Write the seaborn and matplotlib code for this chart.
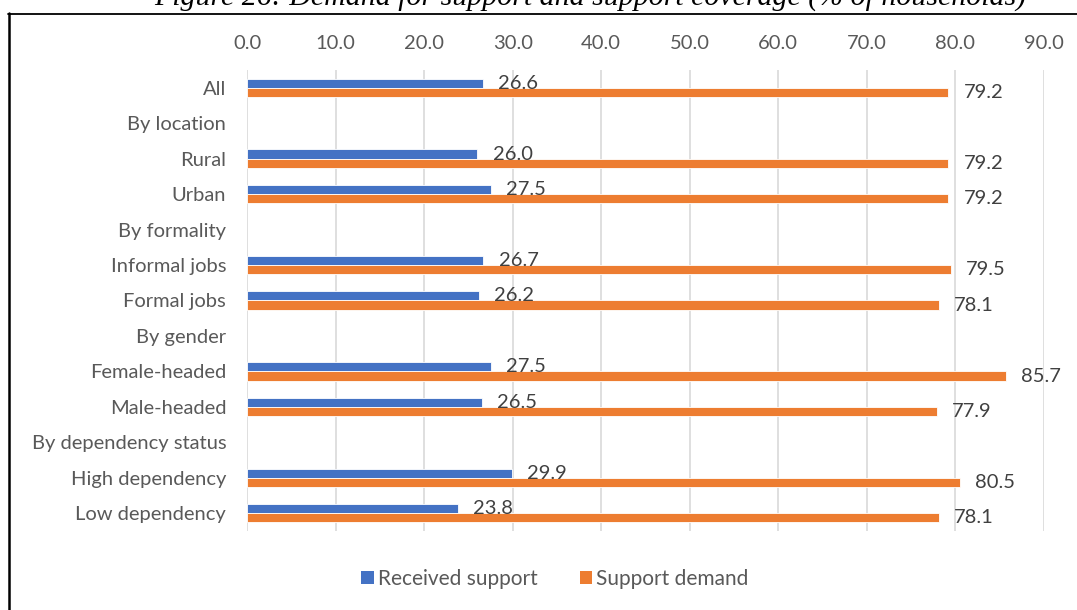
import numpy as np
import pandas as pd
import seaborn as sns
import matplotlib.pyplot as plt
from matplotlib.lines import Line2D
from matplotlib.patches import Patch

categories = ["All", "By location", "Rural", "Urban", "By formality",
              "Informal jobs", "Formal jobs", "By gender", "Female-headed",
              "Male-headed", "By dependency status", "High dependency",
              "Low dependency"]
received_support = [26.6, np.nan, 26.0, 27.5, np.nan, 26.7, 26.2, np.nan,
                    27.5, 26.5, np.nan, 29.9, 23.8]
support_demand = [79.2, np.nan, 79.2, 79.2, np.nan, 79.5, 78.1, np.nan,
                  85.7, 77.9, np.nan, 80.5, 78.1]
series_names = ["Received support", "Support demand"]
x_ticks = [0, 10, 20, 30, 40, 50, 60, 70, 80, 90]
title = "Figure 26: Demand for support and support coverage (% of households)"

colors = ["#4472C4", "#ED7D31"]

sns.set_theme(style="white")
plt.rcParams["font.family"] = ["Lato", "DejaVu Sans"]

df = pd.DataFrame({
    "category": categories * 2,
    "value": received_support + support_demand,
    "series": [series_names[0]] * len(categories) + [series_names[1]] * len(categories),
})

fig = plt.figure(figsize=(10.77, 6.10), dpi=100)
ax = fig.add_axes([247 / 1077, 1 - 531 / 610, (1044 - 247) / 1077, (531 - 70) / 610])

sns.barplot(data=df, y="category", x="value", hue="series", order=categories,
            hue_order=series_names, palette=colors, saturation=1, orient="h",
            width=0.52, gap=0, edgecolor="white", linewidth=0.6, ax=ax,
            legend=False, errorbar=None)

ax.set_xlim(0, 90)
ax.set_ylim(len(categories) - 0.5, -0.5)
ax.set_xticks(x_ticks)
ax.set_xticklabels([f"{t:.1f}" for t in x_ticks])
ax.xaxis.tick_top()
ax.tick_params(axis="x", length=0, pad=13, labelsize=14.5, labelcolor="#595959")
ax.tick_params(axis="y", length=0, pad=15, labelsize=14.5, labelcolor="#595959")
ax.set_xlabel("")
ax.set_ylabel("")
for s in ax.spines.values():
    s.set_visible(False)
ax.grid(axis="x", color="#D9D9D9", linewidth=1.2)
ax.grid(axis="y", visible=False)
ax.set_axisbelow(True)

# value labels placed just beyond the bar ends
for container in ax.containers:
    for bar in container:
        v = bar.get_width()
        if not np.isfinite(v):
            continue
        yc = bar.get_y() + bar.get_height() / 2
        ax.annotate(f"{v:.1f}", xy=(v, yc), xytext=(11, 0),
                    textcoords="offset points", va="center", ha="left",
                    fontsize=14.5, color="#404040", annotation_clip=False)

handles = [Patch(facecolor=c, edgecolor="none") for c in colors]
fig.legend(handles, series_names, loc="center", bbox_to_anchor=(555 / 1077, 1 - 579 / 610),
           ncol=2, frameon=False, fontsize=15, handlelength=0.6, handleheight=0.6,
           handletextpad=0.2, columnspacing=2.0, labelcolor="#595959")

# frame around the figure block
fig.add_artist(Line2D([8 / 1077, 1.0], [1 - 13.5 / 610] * 2, transform=fig.transFigure,
                      color="black", linewidth=1.3))
fig.add_artist(Line2D([9 / 1077] * 2, [1 - 13 / 610, 0.0], transform=fig.transFigure,
                      color="black", linewidth=1.8))

fig.text(590 / 1077, 1 - 6 / 610, title, ha="center", va="baseline",
         fontsize=21.5, style="italic", family="Liberation Serif", color="black")

fig.savefig("out.png", dpi=100)
